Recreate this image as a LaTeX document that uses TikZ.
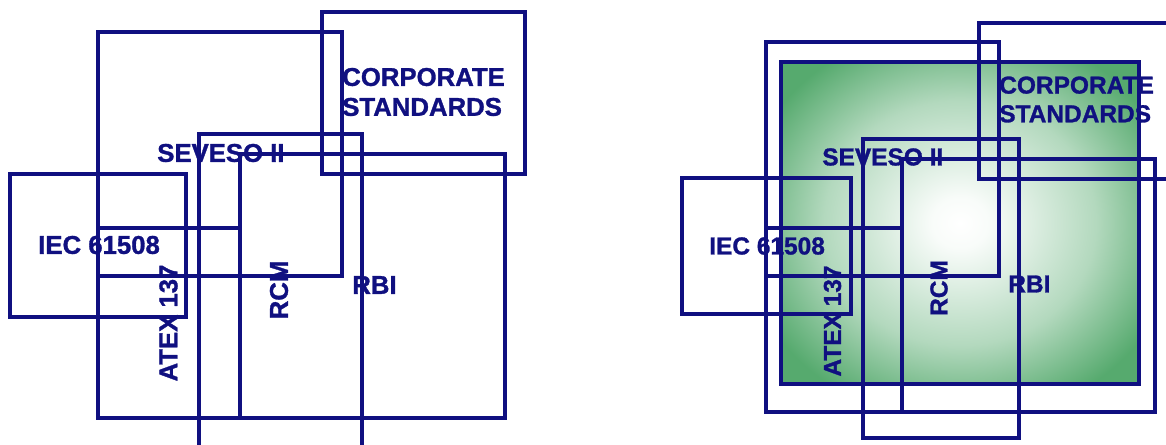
\documentclass[tikz,border=0pt]{standalone}
\usepackage{fontspec}
\setmainfont{Liberation Sans}
\newfontfamily\tagfont{Liberation Sans Bold}[FakeBold=1.2]
\usetikzlibrary{positioning}
\definecolor{navy}{RGB}{16,16,128}
\definecolor{zonegreen}{RGB}{86,170,110}
\pgfdeclareradialshading{zoneglow}{\pgfpoint{0bp}{0bp}}{color(0bp)=(white); color(4bp)=(white!96!zonegreen); color(19bp)=(white!55!zonegreen); color(31bp)=(zonegreen); color(50bp)=(zonegreen)}

\begin{document}
\begin{tikzpicture}[x=0.025cm, y=-0.025cm]
        % Define styles for shapes
        \tikzstyle{zone} = [draw=navy, line width=2.3pt]
        \tikzstyle{tag} = [text=navy, inner sep=0pt, font=\tagfont\fontsize{18.3}{21.3}\selectfont]
        \tikzstyle{tagsmall} = [tag, font=\tagfont\fontsize{17.4}{20.4}\selectfont]
        \useasboundingbox (0,0) rectangle (1166,445);

        % Left picture: outlines only
        \draw[zone] (322,12) rectangle (525,174);
        \draw[zone] (98,32) rectangle (342,276);
        \draw[zone] (98,228) rectangle (240,418);
        \draw[zone] (199,134) rectangle (362,470);
        \draw[zone] (240,154) rectangle (505,418);
        \draw[zone] (10,174) rectangle (186,317);

        \node[tag, anchor=west, align=left] (corpL) at (342,92) {CORPORATE\\STANDARDS};
        \node[tag, anchor=west] (sevesoL) at (157,153) {SEVESO II};
        \node[tag, anchor=west] (iecL) at (38,245) {IEC 61508};
        \node[tag, rotate=90] (atexL) at (168.5,323) {ATEX 137};
        \node[tag, rotate=90] (rcmL) at (279,290) {RCM};
        \node[tag, anchor=west] (rbiL) at (352,285) {RBI};

        % Right picture: shaded zone behind the outlines
        \draw[zone, shading=zoneglow] (781,62) rectangle (1139,384);
        \draw[zone] (766,42) rectangle (999,276);
        \draw[zone] (766,228) rectangle (902,412);
        \draw[zone] (863,139) rectangle (1019,438);
        \draw[zone] (902,159) rectangle (1155,412);
        \draw[zone] (682,178) rectangle (851,314);
        \draw[zone] (979,23) rectangle (1200,179);

        \node[tagsmall, anchor=west, align=left] (corpR) at (999,99.5) {CORPORATE\\STANDARDS};
        \node[tagsmall, anchor=west] (sevesoR) at (822,157) {SEVESO II};
        \node[tagsmall, anchor=west] (iecR) at (709,246) {IEC 61508};
        \node[tagsmall, rotate=90] (atexR) at (832.5,321) {ATEX 137};
        \node[tagsmall, rotate=90] (rcmR) at (939,288) {RCM};
        \node[tagsmall, anchor=west] (rbiR) at (1008,284) {RBI};
\end{tikzpicture}
\end{document}
